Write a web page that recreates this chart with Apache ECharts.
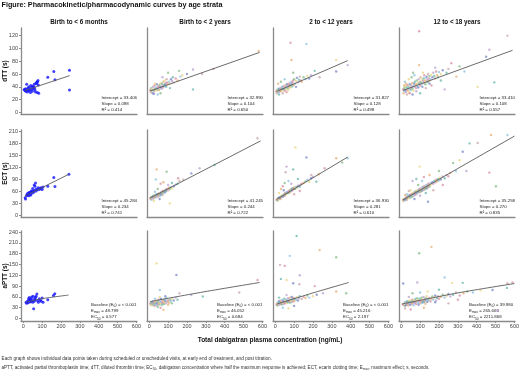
<!DOCTYPE html>
<html>
<head>
<meta charset="utf-8">
<script src="https://cdn.jsdelivr.net/npm/echarts@6/dist/echarts.min.js"></script>
<style>
html,body{margin:0;padding:0;background:#fff;}
#chart{width:520px;height:372px;}
</style>
</head>
<body>
<div id="chart"></div>
<script>
var columnTitles = ['Birth to < 6 months', 'Birth to < 2 years', '2 to < 12 years', '12 to < 18 years'];
var rowTitles = ['dTT (s)', 'ECT (s)', 'aPTT (s)'];
var xTicks = [0, 100, 200, 300, 400, 500, 600];
var dttTicks = [0, 20, 40, 60, 80, 100, 120];
var ectTicks = [0, 30, 60, 90, 120, 150, 180, 210];
var apttTicks = [0, 30, 60, 90, 120, 150, 180, 210, 240];

// dTT fits (linear)
var dttIntercept = [33.406, 32.990, 31.827, 33.410];
var dttSlope = [0.098, 0.104, 0.128, 0.108];
var dttR2 = ['0.414', '0.650', '0.498', '0.557'];
var dttLineX = [[8, 246], [5, 585], [8, 384], [8, 590]];
// ECT fits (linear)
var ectIntercept = [45.284, 41.245, 36.930, 35.258];
var ectSlope = [0.234, 0.244, 0.281, 0.270];
var ectR2 = ['0.741', '0.722', '0.610', '0.835'];
var ectLineX = [[8, 242], [5, 590], [8, 384], [8, 600]];
// aPTT fits (Emax model), curves
var apttE0 = ['< 0.001', '< 0.001', '< 0.001', '39.980'];
var apttEmax = ['48.799', '46.052', '45.216', '265.663'];
var apttEC50 = ['0.577', '0.684', '2.197', '2211.868'];
var apttCurve6m = [[12, 45], [100, 55], [240, 65]];
var apttCurve2y = [[5, 47], [290, 74], [585, 100]];
var apttCurve12y = [[8, 40], [200, 71], [390, 100]];
var apttCurve18y = [[2, 40], [300, 71], [600, 97]];

// individual points: [concentration ng/mL, seconds]
var dtt6m = [[5,36],[8,35],[10,34],[12,37],[15,33],[18,44],[20,36],[22,32],[25,38],[28,35],[30,40],[32,34],[35,37],[38,31],[40,42],[42,36],[45,39],[48,33],[50,41],[52,37],[55,40],[58,44],[60,38],[62,35],[65,32],[68,46],[70,45],[72,47],[75,48],[78,50],[80,43],[75,31],[82,30],[130,55],[162,64],[168,51],[245,66],[245,35]];
var dtt2y = [[5,35],[8,32],[10,38],[12,34],[15,36],[18,30],[20,40],[22,35],[25,33],[28,42],[30,37],[32,36],[35,39],[38,34],[40,44],[42,38],[45,36],[48,41],[50,40],[52,35],[55,43],[58,38],[60,46],[62,40],[65,37],[68,45],[70,42],[72,39],[75,48],[78,43],[80,41],[82,50],[85,44],[88,46],[90,40],[92,52],[95,47],[98,44],[100,62],[105,48],[110,45],[115,52],[120,49],[125,55],[130,47],[140,53],[150,50],[158,65],[165,56],[175,58],[200,60],[232,67],[232,36],[280,60],[340,68],[580,96],[60,30],[45,28],[30,45],[25,29],[70,55],[110,38]];
var dtt12y = [[5,33],[8,30],[10,35],[12,31],[15,34],[18,37],[20,32],[22,36],[25,34],[28,38],[30,33],[32,36],[35,40],[38,35],[40,37],[42,41],[45,36],[48,39],[50,34],[52,42],[55,38],[58,40],[60,36],[62,44],[65,41],[68,38],[70,43],[72,45],[75,40],[78,42],[80,47],[82,39],[85,44],[88,48],[90,41],[92,46],[95,50],[98,43],[100,52],[105,45],[110,49],[115,54],[120,47],[125,51],[130,56],[135,50],[140,48],[150,55],[160,52],[170,57],[180,53],[190,58],[209,65],[235,55],[81,109],[86,82],[95,62],[165,107],[323,82],[323,64],[384,74],[20,28],[40,30],[60,32],[15,45],[30,48],[50,52],[70,35],[110,40]];
var dtt18y = [[10,36],[12,30],[15,38],[18,33],[20,41],[22,35],[25,32],[28,39],[30,36],[32,43],[35,34],[38,40],[40,37],[42,31],[45,44],[48,38],[50,35],[52,42],[55,39],[58,46],[60,37],[62,41],[65,34],[68,45],[70,40],[72,48],[75,42],[78,38],[80,44],[82,50],[85,41],[88,46],[90,39],[92,52],[95,45],[98,48],[100,42],[102,55],[105,47],[108,44],[110,51],[112,40],[115,49],[118,53],[120,46],[122,58],[125,50],[128,44],[130,54],[132,48],[135,56],[138,51],[140,47],[142,60],[145,53],[148,49],[150,57],[155,52],[160,59],[165,55],[170,62],[175,57],[180,53],[185,64],[190,58],[195,55],[200,63],[210,60],[220,66],[230,36],[240,62],[250,68],[265,77],[292,56],[309,72],[335,64],[405,40],[450,87],[467,98],[493,47],[563,120],[95,127],[95,74],[63,62],[20,48],[40,52],[60,28],[80,33],[100,30],[130,38],[160,42],[25,45],[55,55],[70,58],[115,62],[150,45],[180,70],[210,50],[30,28],[45,30],[15,42]];

var ect6m = [[10,43],[12,40],[18,48],[20,52],[22,50],[25,55],[28,53],[30,48],[32,56],[35,52],[38,57],[40,50],[42,60],[45,58],[48,55],[50,66],[52,60],[55,57],[58,75],[60,62],[62,72],[65,80],[68,60],[70,65],[75,63],[80,68],[85,64],[90,67],[95,68],[100,64],[105,70],[130,72],[162,94],[168,71],[242,102]];
var ect2y = [[5,42],[8,40],[10,45],[12,38],[15,44],[18,46],[20,41],[22,48],[25,43],[28,47],[30,45],[32,50],[35,44],[38,49],[40,52],[42,47],[45,51],[48,46],[50,54],[52,50],[55,53],[58,48],[60,56],[62,52],[65,58],[68,54],[70,50],[72,60],[75,56],[78,59],[80,55],[82,62],[85,58],[88,64],[90,60],[95,66],[100,62],[105,68],[110,65],[115,70],[120,67],[130,72],[140,76],[150,78],[160,85],[153,92],[39,114],[92,108],[35,89],[109,29],[223,104],[267,117],[346,125],[574,192],[60,78],[75,82],[45,65],[30,58],[25,35],[55,40],[100,75],[120,80],[180,88]];
var ect12y = [[7,38],[10,40],[12,36],[15,42],[18,39],[20,44],[22,41],[25,43],[28,40],[30,46],[32,44],[35,48],[38,45],[40,50],[42,47],[45,49],[48,52],[50,48],[52,55],[55,51],[58,53],[60,57],[62,54],[65,56],[68,59],[70,55],[72,58],[75,61],[78,57],[80,63],[82,60],[85,62],[88,65],[90,61],[92,67],[95,64],[98,66],[100,69],[105,65],[110,70],[115,68],[120,72],[125,74],[130,71],[135,76],[140,78],[150,80],[160,84],[170,88],[180,83],[190,92],[200,95],[218,83],[191,100],[262,117],[323,142],[355,131],[384,142],[107,169],[165,144],[60,121],[95,114],[55,107],[40,72],[30,65],[50,80],[70,85],[20,55],[45,62],[85,78],[120,90],[100,52],[130,60],[230,102]];
var ect18y = [[10,38],[12,35],[15,40],[18,37],[20,42],[22,39],[25,44],[28,41],[30,38],[32,46],[35,43],[38,48],[40,45],[42,42],[45,50],[48,47],[50,44],[52,52],[55,49],[58,54],[60,46],[62,51],[65,56],[68,53],[70,49],[72,58],[75,55],[78,52],[80,60],[82,57],[85,54],[88,62],[90,58],[92,64],[95,61],[98,57],[100,66],[102,62],[105,59],[108,68],[110,64],[112,61],[115,70],[118,66],[120,63],[122,72],[125,68],[128,65],[130,74],[132,70],[135,67],[138,76],[140,72],[142,69],[145,78],[148,74],[150,71],[155,80],[160,76],[165,82],[170,78],[175,85],[180,81],[185,88],[190,84],[195,90],[200,86],[205,93],[210,89],[220,96],[230,92],[240,100],[250,97],[260,105],[275,130],[290,110],[309,137],[326,158],[345,110],[362,179],[405,180],[467,106],[476,200],[502,72],[563,200],[98,121],[142,33],[60,85],[80,90],[40,60],[120,95],[150,100],[200,110],[30,52],[50,62],[70,40],[100,48],[130,55],[170,62],[220,75],[20,50],[90,75],[110,85]];

var aptt6m = [[15,45],[18,42],[22,48],[25,44],[28,55],[30,50],[32,58],[35,46],[38,52],[40,48],[42,55],[45,60],[48,50],[50,45],[52,62],[55,27],[58,48],[60,55],[62,52],[65,58],[68,62],[72,68],[75,50],[80,45],[85,55],[90,50],[95,48],[100,57],[105,45],[130,52],[160,64],[167,69]];
var aptt2y = [[5,42],[8,38],[10,45],[12,40],[15,36],[18,44],[20,48],[22,39],[25,42],[28,35],[30,46],[32,41],[35,38],[38,50],[40,43],[42,37],[45,47],[48,40],[50,52],[52,44],[55,39],[58,48],[60,42],[62,55],[65,45],[68,38],[70,50],[72,43],[75,47],[78,40],[80,53],[82,45],[85,49],[88,42],[90,56],[95,46],[100,50],[105,44],[110,52],[115,48],[120,55],[130,50],[140,58],[150,52],[160,70],[60,30],[75,24],[45,32],[56,79],[39,153],[144,121],[223,65],[284,61],[477,72],[574,107],[100,38],[120,42],[30,55],[55,60],[85,62]];
var aptt12y = [[7,38],[10,42],[12,36],[15,45],[18,40],[20,48],[22,38],[25,44],[28,50],[30,41],[32,46],[35,39],[38,52],[40,44],[42,48],[45,40],[48,55],[50,45],[52,42],[55,50],[58,46],[60,53],[62,43],[65,48],[68,56],[70,45],[72,51],[75,47],[78,58],[80,44],[82,52],[85,49],[88,60],[90,46],[92,54],[95,50],[98,57],[100,48],[105,55],[110,52],[115,59],[120,50],[125,56],[130,62],[140,54],[150,60],[160,57],[170,64],[180,58],[200,62],[220,66],[253,70],[113,229],[25,149],[50,146],[235,190],[323,170],[77,174],[60,107],[95,98],[130,120],[30,110],[128,95],[209,90],[323,75],[376,70],[40,30],[70,28],[100,35],[60,65],[20,58]];
var aptt18y = [[10,38],[15,42],[18,35],[20,45],[22,40],[25,37],[28,44],[30,48],[32,39],[35,43],[38,36],[40,47],[42,41],[45,50],[48,38],[50,44],[52,46],[55,40],[58,52],[60,43],[62,48],[65,37],[68,51],[70,45],[72,42],[75,54],[78,47],[80,40],[82,49],[85,56],[88,44],[90,51],[92,38],[95,48],[98,55],[100,42],[102,50],[105,46],[108,58],[110,43],[112,52],[115,47],[118,60],[120,45],[122,53],[125,49],[128,41],[130,56],[132,50],[135,62],[138,46],[140,54],[145,51],[150,58],[155,48],[160,55],[165,61],[170,52],[175,58],[180,64],[185,50],[190,57],[195,62],[200,55],[210,60],[220,66],[230,58],[240,63],[250,68],[260,61],[275,66],[290,72],[310,64],[330,70],[350,75],[380,72],[420,78],[484,79],[510,22],[560,85],[563,98],[590,100],[160,199],[95,181],[230,114],[270,99],[10,97],[85,100],[326,99],[20,28],[50,25],[120,30],[60,70],[100,72],[140,75],[180,45],[40,60],[200,80],[250,42],[300,52]];

var points = [[dtt6m, dtt2y, dtt12y, dtt18y], [ect6m, ect2y, ect12y, ect18y], [aptt6m, aptt2y, aptt12y, aptt18y]];
var apttCurves = [apttCurve6m, apttCurve2y, apttCurve12y, apttCurve18y];

var palette = ['#d4879c', '#e6a86a', '#7fb87f', '#86bfe0', '#e8d27a', '#6f7fc4', '#b59ad0', '#5fb3a8', '#c9a0a0'];
var font = 'Liberation Sans, Arial, sans-serif';
var axisColor = '#8a8a8a';

// layout of the 3x4 panels
var rowTop = [28, 130, 231];
var rowBottom = [114, 217, 321];
var rowRange = [[-2.5, 132], [-5, 212.5], [-7, 243]];
var rowTicks = [dttTicks, ectTicks, apttTicks];
var panelW = 116;
function colLeft(c) { return 21 + 126 * c; }

function fitLine(a, b, xr) {
	return [[xr[0], a + b * xr[0]], [xr[1], a + b * xr[1]]];
}

var grids = [], xAxes = [], yAxes = [], series = [], graphics = [];

for (var r = 0; r < 3; r++) {
	for (var c = 0; c < 4; c++) {
		var i = r * 4 + c;
		grids.push({
			left: colLeft(c), width: panelW,
			top: rowTop[r], height: rowBottom[r] - rowTop[r],
			containLabel: false, outerBoundsMode: 'none'
		});
		xAxes.push({
			type: 'value', gridIndex: i, min: -12, max: 603,
			axisLine: { show: true, onZero: false, lineStyle: { color: axisColor, width: 1.3 } },
			axisTick: { show: r == 2, customValues: xTicks, length: 2, lineStyle: { color: axisColor } },
			axisLabel: { show: r == 2, customValues: xTicks, fontSize: 5.5, color: '#444', margin: 2.5, fontFamily: font },
			splitLine: { show: false }
		});
		yAxes.push({
			type: 'value', gridIndex: i, min: rowRange[r][0], max: rowRange[r][1],
			axisLine: { show: true, onZero: false, lineStyle: { color: axisColor, width: 1.3 } },
			axisTick: { show: c == 0, customValues: rowTicks[r], length: 2, lineStyle: { color: axisColor } },
			axisLabel: { show: c == 0, customValues: rowTicks[r], fontSize: 5.5, color: '#444', margin: 3, fontFamily: font },
			splitLine: { show: false }
		});

		series.push({
			type: 'scatter', xAxisIndex: i, yAxisIndex: i, silent: true,
			data: points[r][c],
			symbol: 'circle',
			symbolSize: c == 0 ? 3 : 2.4,
			itemStyle: c == 0 ? { color: '#1414ff' } : {
				color: function (p) { return palette[p.dataIndex % palette.length]; },
				opacity: 0.7
			}
		});

		var line;
		if (r == 0) line = fitLine(dttIntercept[c], dttSlope[c], dttLineX[c]);
		else if (r == 1) line = fitLine(ectIntercept[c], ectSlope[c], ectLineX[c]);
		else line = apttCurves[c];
		series.push({
			type: 'line', xAxisIndex: i, yAxisIndex: i, silent: true,
			data: line, showSymbol: false, smooth: r == 2 ? 0.3 : false, z: 5,
			lineStyle: { color: '#5a5a5a', width: 0.9 }
		});

		// annotation block
		var txt, ax;
		if (r == 0) {
			txt = 'Intercept = ' + dttIntercept[c].toFixed(3) + '\nSlope = ' + dttSlope[c].toFixed(3) + '\nR² = ' + dttR2[c];
			ax = colLeft(c) + 80.5;
		} else if (r == 1) {
			txt = 'Intercept = ' + ectIntercept[c].toFixed(3) + '\nSlope = ' + ectSlope[c].toFixed(3) + '\nR² = ' + ectR2[c];
			ax = colLeft(c) + 80.5;
		} else {
			txt = 'Baseline (E{sub|0}) = ' + apttE0[c] + '\nE{sub|max} = ' + apttEmax[c] + '\nEC{sub|50} = ' + apttEC50[c];
			ax = colLeft(c) + 70;
		}
		graphics.push({
			type: 'text', x: ax, y: rowBottom[r] - 19.5,
			style: {
				text: txt, fill: '#222', font: '4.4px ' + font, lineHeight: 6.3,
				rich: { sub: { fontSize: 3.2, fontFamily: font, verticalAlign: 'bottom', fill: '#222' } }
			}
		});
	}
}

// column titles
columnTitles.forEach(function (t, c) {
	graphics.push({
		type: 'text', x: colLeft(c) + panelW / 2, y: 22.5,
		style: { text: t, fill: '#111', font: 'bold 6.3px ' + font, textAlign: 'center', textVerticalAlign: 'middle' }
	});
});
// row titles
rowTitles.forEach(function (t, r) {
	graphics.push({
		type: 'text', x: 5, y: (rowTop[r] + rowBottom[r]) / 2, rotation: Math.PI / 2,
		style: { text: t, fill: '#111', font: 'bold 6.4px ' + font, textAlign: 'center', textVerticalAlign: 'middle' }
	});
});

graphics.push({
	type: 'text', x: 1.5, y: 4.6,
	style: { text: 'Figure: Pharmacokinetic/pharmacodynamic curves by age strata', fill: '#111', font: 'bold 7.2px ' + font, textVerticalAlign: 'middle' }
});
graphics.push({
	type: 'text', x: 270, y: 340,
	style: { text: 'Total dabigatran plasma concentration (ng/mL)', fill: '#111', font: 'bold 6.5px ' + font, textAlign: 'center', textVerticalAlign: 'middle' }
});
graphics.push({
	type: 'text', x: 1.5, y: 359,
	style: { text: 'Each graph shows individual data points taken during scheduled or unscheduled visits, at early end of treatment, and post titration.', fill: '#333', font: '4.7px ' + font, textVerticalAlign: 'middle' }
});
graphics.push({
	type: 'text', x: 1.5, y: 364,
	style: {
		text: 'aPTT, activated partial thromboplastin time; dTT, diluted thrombin time; EC{sub|50}, dabigatran concentration where half the maximum response is achieved; ECT, ecarin clotting time; E{sub|max}, maximum effect; s, seconds.',
		fill: '#333', font: '4.6px ' + font, lineHeight: 6.5,
		rich: { sub: { fontSize: 3.2, fontFamily: font, verticalAlign: 'bottom', fill: '#333' } }
	}
});

var chart = echarts.init(document.getElementById('chart'));
option = {
	animation: false,
	backgroundColor: '#fff',
	grid: grids,
	xAxis: xAxes,
	yAxis: yAxes,
	series: series,
	graphic: graphics
};
chart.setOption(option);
</script>
</body>
</html>
